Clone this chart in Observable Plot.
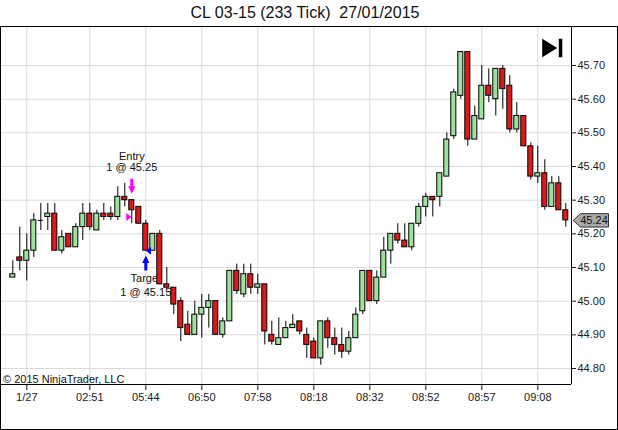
<!DOCTYPE html>
<html><head><meta charset="utf-8">
<script src="https://cdn.jsdelivr.net/npm/d3@7"></script>
<script src="https://cdn.jsdelivr.net/npm/@observablehq/plot@0.6"></script>
<style>
body{margin:0;background:#fff;font-family:"Liberation Sans",Arial,sans-serif;}
#wrap{width:618px;height:430px;position:relative;overflow:hidden;background:#fff;}
#title{height:26px;line-height:26px;text-align:center;font-size:16px;white-space:pre;color:#111;padding-right:8px;box-sizing:border-box;}
#box{width:618px;height:404px;border:1px solid #000;box-sizing:border-box;overflow:hidden;}
#box svg{display:block;}
</style></head><body>
<div id="wrap"><div id="title">CL 03-15 (233 Tick)  27/01/2015</div><div id="box"></div></div>
<script>
// ---- data ----
const opens  = [45.07,45.13,45.12,45.15,45.24,45.25,45.26,45.15,45.20,45.16,45.22,45.26,45.21,45.26,45.26,45.25,45.31,45.30,45.28,45.23,
                45.15,45.20,45.05,45.04,45.00,44.93,44.90,44.96,44.98,45.00,44.90,44.94,45.09,45.02,45.08,45.04,45.05,44.90,44.87,44.89,
                44.92,44.94,44.90,44.88,44.83,44.94,44.89,44.87,44.85,44.89,44.97,45.09,45.00,45.07,45.15,45.20,45.18,45.16,45.23,45.28,
                45.31,45.31,45.37,45.49,45.61,45.74,45.48,45.54,45.64,45.60,45.69,45.64,45.51,45.55,45.46,45.37,45.38,45.28,45.35,45.27];
const highs  = [45.12,45.22,45.20,45.26,45.29,45.29,45.29,45.21,45.20,45.23,45.29,45.29,45.27,45.29,45.28,45.34,45.35,45.30,45.28,45.24,
                45.20,45.21,45.10,45.04,45.01,44.97,45.00,45.02,45.02,45.00,44.95,45.09,45.11,45.11,45.11,45.08,45.05,44.94,44.95,44.94,
                44.96,44.94,44.92,44.89,44.94,44.95,44.92,44.92,44.91,44.98,45.09,45.09,45.09,45.19,45.20,45.23,45.23,45.23,45.29,45.32,
                45.31,45.38,45.50,45.63,45.74,45.74,45.58,45.70,45.69,45.69,45.70,45.67,45.59,45.55,45.47,45.46,45.42,45.37,45.37,45.29];
const lows   = [45.07,45.09,45.06,45.13,45.21,45.21,45.15,45.14,45.16,45.16,45.18,45.21,45.21,45.24,45.24,45.24,45.28,45.23,45.23,45.15,
                45.15,45.05,45.04,44.96,44.88,44.90,44.90,44.89,44.92,44.90,44.89,44.94,45.02,45.01,45.02,45.02,44.87,44.87,44.87,44.89,
                44.92,44.90,44.83,44.83,44.81,44.86,44.84,44.83,44.84,44.89,44.96,45.00,44.99,45.07,45.11,45.17,45.16,45.15,45.22,45.25,
                45.25,45.28,45.37,45.48,45.60,45.46,45.48,45.54,45.59,45.55,45.57,45.50,45.50,45.46,45.36,45.35,45.27,45.28,45.27,45.22];
const closes = [45.08,45.12,45.15,45.24,45.24,45.26,45.15,45.19,45.16,45.22,45.26,45.22,45.26,45.25,45.25,45.31,45.30,45.27,45.23,45.15,
                45.20,45.05,45.04,44.99,44.92,44.90,44.96,44.98,45.00,44.90,44.94,45.09,45.03,45.08,45.04,45.05,44.91,44.88,44.89,44.92,
                44.93,44.91,44.87,44.83,44.94,44.89,44.87,44.85,44.89,44.96,45.09,45.00,45.07,45.15,45.20,45.18,45.16,45.23,45.28,45.31,
                45.30,45.38,45.48,45.62,45.74,45.48,45.55,45.64,45.61,45.69,45.63,45.51,45.55,45.46,45.37,45.38,45.28,45.35,45.27,45.24];
const tickBars   = [2, 11, 19, 27, 35, 43, 51, 59, 67, 75];
const tickLabels = ["1/27","02:51","05:44","06:50","07:58","08:18","08:32","08:52","08:57","09:08"];
const yTicks     = [44.80,44.90,45.00,45.10,45.20,45.30,45.40,45.50,45.60,45.70];
const entryBar = 17, entryPrice = 45.25, entryText = ["Entry", "1 @ 45.25"];
const exitBar  = 19, exitPrice  = 45.15, exitText  = ["Target", "1 @ 45.15"];
const copyright = "© 2015 NinjaTrader, LLC";

// ---- build ----
const candles = opens.map((o, i) => ({i, open: o, high: highs[i], low: lows[i], close: closes[i]}));
const bodies = candles.filter(d => d.open !== d.close);
const dojis  = candles.filter(d => d.open === d.close);
const last = candles[candles.length - 1];
const xDomain = [-1.614, 79.814];
const yDomain = [44.7525, 45.8129];
const UP = "#9fe09f", DOWN = "#dc1a1a", GRID = "#dadada";
const hw = 0.36;

const arrowDown = {draw(c){c.moveTo(-1.5,-7.5);c.lineTo(1.5,-7.5);c.lineTo(1.5,0);c.lineTo(3.6,0);c.lineTo(0,7.5);c.lineTo(-3.6,0);c.lineTo(-1.5,0);c.closePath();}};
const arrowUp   = {draw(c){c.moveTo(-1.5,7.5);c.lineTo(1.5,7.5);c.lineTo(1.5,0);c.lineTo(3.6,0);c.lineTo(0,-7.5);c.lineTo(-3.6,0);c.lineTo(-1.5,0);c.closePath();}};
const triRight  = {draw(c){c.moveTo(-2.5,-4);c.lineTo(2.5,0);c.lineTo(-2.5,4);c.closePath();}};
const triLeft   = {draw(c){c.moveTo(2.5,-4);c.lineTo(-2.5,0);c.lineTo(2.5,4);c.closePath();}};
const priceTag  = {draw(c){c.moveTo(1.7,0);c.lineTo(9,-6.7);c.lineTo(37,-6.7);c.lineTo(37,6.7);c.lineTo(9,6.7);c.closePath();}};
const playIcon  = {draw(c){c.moveTo(-29.3,11.3);c.lineTo(-14.3,20.5);c.lineTo(-29.3,29.7);c.closePath();
                           c.moveTo(-12.7,11.3);c.lineTo(-9.2,11.3);c.lineTo(-9.2,29.7);c.lineTo(-12.7,29.7);c.closePath();}};

const entry = [{i: entryBar, high: highs[entryBar], price: entryPrice}];
const exit  = [{i: exitBar, low: lows[exitBar], price: exitPrice}];

const chart = Plot.plot({
  width: 616, height: 402,
  marginLeft: 0, marginRight: 46, marginTop: 0, marginBottom: 45,
  style: {fontFamily: "'Liberation Sans', Arial, sans-serif", fontSize: "11px", color: "#1a1a1a", background: "#fff", overflow: "visible"},
  x: {domain: xDomain, label: null},
  y: {domain: yDomain, label: null},
  marks: [
    Plot.gridX(tickBars, {stroke: GRID, strokeOpacity: 1}),
    Plot.gridY(yTicks, {stroke: GRID, strokeOpacity: 1}),
    Plot.axisX(tickBars, {tickSize: 6, tickPadding: 3, tickFormat: d => tickLabels[tickBars.indexOf(d)], fontSize: 11, label: null}),
    Plot.axisY(yTicks, {anchor: "right", tickSize: 4, tickPadding: 2, tickFormat: d => d.toFixed(2), fontSize: 11, label: null}),
    Plot.text(entry, {x: "i", y: "high", text: () => entryText[0], dy: -44, fill: "#111"}),
    Plot.text(entry, {x: "i", y: "high", text: () => entryText[1], dy: -32.5, fill: "#111"}),
    Plot.text(exit, {x: "i", y: "low", text: () => exitText[0], dy: 28, fill: "#111"}),
    Plot.text(exit, {x: "i", y: "low", text: () => exitText[1], dy: 41.5, fill: "#111"}),
    Plot.ruleX(candles, {x: "i", y1: "low", y2: "high", stroke: "#000", strokeWidth: 1}),
    Plot.rect(bodies, {x1: d => d.i - hw, x2: d => d.i + hw, y1: "open", y2: "close",
      fill: d => d.close > d.open ? UP : DOWN, stroke: "#000", strokeWidth: 1}),
    Plot.ruleY(dojis, {y: "close", x1: d => d.i - hw, x2: d => d.i + hw, stroke: "#000"}),
    Plot.dot(entry, {x: "i", y: "high", dy: -14, symbol: arrowDown, r: 1, fill: "#ff00ff"}),
    Plot.dot(entry, {x: "i", y: "price", dx: -3, symbol: triRight, r: 1, fill: "#ff00ff"}),
    Plot.dot(exit, {x: "i", y: "low", dy: 12.3, symbol: arrowUp, r: 1, fill: "#0000ff"}),
    Plot.dot(exit, {x: "i", y: "price", dx: 2.6, symbol: triLeft, r: 1, fill: "#0000ff"}),
    Plot.ruleY([yDomain[0]], {stroke: "#000"}),
    Plot.ruleX([xDomain[1]], {stroke: "#000"}),
    Plot.dot([last], {x: () => xDomain[1], y: "close", symbol: priceTag, r: 1, fill: "#a9a9a9", stroke: "#333", strokeWidth: 1, clip: false}),
    Plot.text([last], {x: () => xDomain[1], y: "close", text: d => d.close.toFixed(2), dx: 22.5, fill: "#111", clip: false}),
    Plot.dot([0], {frameAnchor: "top-right", symbol: playIcon, r: 1, fill: "#000"}),
    Plot.text([copyright], {frameAnchor: "bottom-left", text: d => d, textAnchor: "start", lineAnchor: "bottom", dx: 1.5, dy: -2, fill: "#111"})
  ]
});
document.getElementById("box").appendChild(chart);
</script>
</body></html>
